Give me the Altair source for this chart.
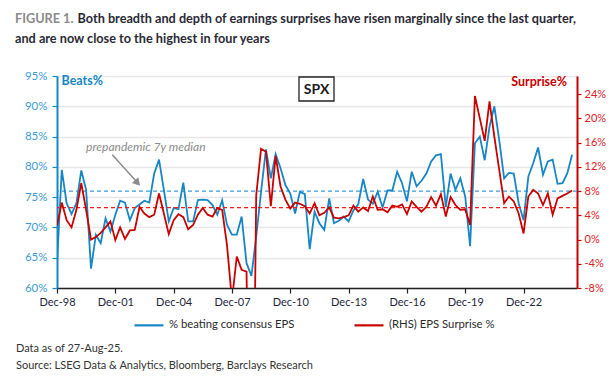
import altair as alt
import pandas as pd

# ---------------- data ----------------
quarter_ends = ["1998-12-31"]
for yr in range(1999, 2026):
    quarter_ends += [f"{yr}-03-31", f"{yr}-06-30", f"{yr}-09-30", f"{yr}-12-31"]
dates = [d + "T00:00:00" for d in quarter_ends[:107]]

beats_pct = [
    64.0, 79.5, 74.0, 72.2, 74.0, 79.4, 76.2, 63.2, 68.8, 67.4,
    71.5, 69.3, 72.1, 74.4, 74.1, 71.2, 73.2, 73.8, 74.4, 74.1,
    78.9, 81.2, 76.2, 71.0, 73.2, 73.0, 77.4, 71.0, 71.0, 74.5,
    74.6, 74.5, 73.7, 72.1, 74.5, 70.4, 68.8, 68.8, 71.8, 64.1,
    62.0, 68.5, 75.9, 82.9, 78.1, 82.1, 79.8, 77.0, 75.6, 72.3,
    75.9, 75.5, 66.4, 72.6, 70.7, 69.6, 74.8, 70.7, 71.1, 71.8,
    71.0, 72.8, 73.8, 78.0, 74.6, 73.9, 75.9, 73.3, 76.1, 76.1,
    79.2, 77.3, 74.3, 79.2, 76.8, 77.7, 78.9, 80.9, 81.9, 82.1,
    73.4, 78.9, 76.2, 78.1, 75.1, 66.9, 83.9, 85.0, 81.1, 86.6,
    90.0, 84.4, 78.1, 79.0, 78.9, 74.0, 71.2, 78.4, 80.6, 83.2,
    78.7, 80.9, 81.2, 77.2, 77.3, 78.9, 82.0,
]

surprise_pct = [
    2.3, 6.1, 3.2, 2.0, 4.9, 9.3, 4.9, 0.0, 0.4, 1.1,
    2.0, 3.0, -0.1, 2.0, 0.1, 1.5, 1.6, 5.4, 4.3, 3.7,
    4.1, 7.6, 4.3, 0.9, 3.2, 4.2, 3.7, 1.7, 2.4, 4.1,
    5.2, 4.1, 3.8, 5.2, 4.9, -1.0, -10.0, -2.8, -5.0, -5.3,
    -60.0, 7.3, 15.0, 14.5, 5.5, 13.8, 8.8, 6.6, 5.1, 6.1,
    5.9, 5.5, 4.3, 6.0, 4.0, 4.4, 5.3, 3.6, 3.5, 3.7,
    4.0, 5.6, 4.6, 5.3, 4.7, 7.1, 4.9, 5.0, 4.5, 5.6,
    5.4, 5.8, 4.2, 6.3, 5.4, 4.6, 5.4, 7.0, 5.6, 7.5,
    3.8, 7.0, 5.7, 4.9, 5.0, 2.4, 23.7, 20.0, 16.3, 22.8,
    17.0, 11.5, 6.0, 7.1, 6.3, 4.3, 1.0, 7.1, 8.2, 7.6,
    5.7, 7.6, 4.1, 6.8, 7.2, 7.6, 8.1,
]

beats_median = [76.0]
surprise_median = [5.27]

left_ticks = [60, 65, 70, 75, 80, 85, 90, 95]
right_ticks = [-8, -4, 0, 4, 8, 12, 16, 20, 24]
x_tick_years = [1998, 2001, 2004, 2007, 2010, 2013, 2016, 2019, 2022]

series_names = ["% beating consensus EPS", "(RHS) EPS Surprise %"]

title_tag = "FIGURE 1."
title_line1 = "Both breadth and depth of earnings surprises have risen marginally since the last quarter,"
title_line2 = "and are now close to the highest in four years"
footer_lines = ["Data as of 27-Aug-25.",
                "Source: LSEG Data & Analytics, Bloomberg, Barclays Research"]

note_text = ["prepandemic 7y median"]
note_pos_date = ["2000-06-30T00:00:00"]
note_pos_val = [83.3]
arrow_from = ["2001-11-03T00:00:00"]
arrow_to = ["2003-02-01T00:00:00"]
arrow_from_val = [82.0]
arrow_to_val = [77.6]
arrowhead_date = ["2003-02-22T00:00:00"]
arrowhead_val = [77.35]

# ---------------- style ----------------
FONT = "Lato"
BLUE = "#1786c5"
BLUE_LBL = "#3d9bd6"
BLUE_DASH = "#3d9bd6"
RED = "#c80000"
RED_LBL = "#e0201e"
RED_DASH = "#ff1a1a"
DARK = "#2a2a35"
GREY = "#8c8c8c"

df = pd.DataFrame({"date": dates, "beats": beats_pct, "surprise": surprise_pct})

x_scale = alt.Scale(domain=[alt.DateTime(year=1998, month=12, date=31),
                            alt.DateTime(year=2025, month=9, date=30)])
x_axis = alt.Axis(
    title=None,
    values=[alt.DateTime(year=y, month=12, date=31) for y in x_tick_years],
    format="%b-%y", grid=False, labelFlush=False, labelOverlap=False,
    domainColor="#222222", domainWidth=1.5, tickColor="#222222", tickSize=5,
    tickWidth=1.2, labelColor="#1f2740", labelFont=FONT, labelFontSize=11,
    labelPadding=3,
)

left_scale = alt.Scale(domain=[60, 95], nice=False, zero=False)
right_scale = alt.Scale(domain=[-8, 27], nice=False, zero=False)

left_axis = alt.Axis(
    title=None, orient="left", values=left_ticks, labelExpr="datum.value + '%'",
    domainColor=BLUE, domainWidth=2, tickColor=BLUE, tickSize=5, tickWidth=1.2,
    labelColor=BLUE_LBL, labelFont=FONT, labelFontSize=11.5, labelPadding=5,
    grid=True, gridColor="#e8e8e8", gridWidth=1.5, labelFlush=False,
)
right_axis = alt.Axis(
    title=None, orient="right", values=right_ticks, labelExpr="datum.value + '%'",
    domainColor=RED, domainWidth=2, tickColor=RED, tickSize=4, tickWidth=1.2,
    labelColor=RED_LBL, labelFont=FONT, labelFontSize=11, labelPadding=3,
    grid=False, labelFlush=False,
)

color_scale = alt.Scale(domain=series_names, range=[BLUE, RED])
legend = alt.Legend(
    title=None, orient="none", legendX=76, legendY=233, direction="horizontal",
    symbolType="stroke", symbolStrokeWidth=2.2, symbolSize=841,
    labelFont=FONT, labelFontSize=11.3, labelColor="#2a2a2a",
    columnPadding=55, labelOffset=4, padding=0, labelLimit=300,
)


def X(field="date"):
    return alt.X(f"{field}:T", scale=x_scale, axis=x_axis)


def YL(field="beats"):
    return alt.Y(f"{field}:Q", scale=left_scale, axis=left_axis)


def YR(field="surprise"):
    return alt.Y(f"{field}:Q", scale=right_scale, axis=right_axis)


def COLOR():
    return alt.Color("series:N", scale=color_scale, legend=legend)


one = pd.DataFrame({"k": [0]})

blue_line = alt.Chart(df).transform_calculate(
    series=f"'{series_names[0]}'"
).mark_line(strokeWidth=1.8, clip=True).encode(x=X(), y=YL(), color=COLOR())

blue_med = alt.Chart(pd.DataFrame({"beats": beats_median})).mark_rule(
    color=BLUE_DASH, strokeDash=[4, 3], strokeWidth=1.3
).encode(y=YL())

note = alt.Chart(pd.DataFrame({"date": note_pos_date, "beats": note_pos_val, "label": note_text})).mark_text(
    align="left", baseline="middle", font=FONT, fontSize=12, fontStyle="italic", color=GREY
).encode(x=X(), y=YL(), text="label:N")

arrow = alt.Chart(pd.DataFrame({"date": arrow_from, "date2": arrow_to,
                                "beats": arrow_from_val, "beats2": arrow_to_val})).mark_rule(
    color=GREY, strokeWidth=1.5
).encode(x=X(), x2="date2:T", y=YL(), y2="beats2:Q")

arrowhead = alt.Chart(pd.DataFrame({"date": arrowhead_date, "beats": arrowhead_val})).mark_point(
    shape="triangle-up", filled=True, size=75, angle=138, color=GREY, opacity=1
).encode(x=X(), y=YL())

beats_lbl = alt.Chart(pd.DataFrame({"t": ["Beats%"]})).mark_text(
    align="left", baseline="middle", font=FONT, fontWeight="bold", fontSize=12.5, color=BLUE
).encode(x=alt.value(4.5), y=alt.value(5), text="t:N")

spx_box = alt.Chart(one).mark_rect(fill="white", stroke="#222222", strokeWidth=1.3).encode(
    x=alt.value(242), x2=alt.value(277), y=alt.value(1), y2=alt.value(25)
)
spx_txt = alt.Chart(pd.DataFrame({"t": ["SPX"]})).mark_text(
    align="center", baseline="middle", font=FONT, fontWeight="bold", fontSize=14, color="#1a1a1a"
).encode(x=alt.value(259.5), y=alt.value(13.5), text="t:N")

title_tag_mark = alt.Chart(pd.DataFrame({"t": [title_tag]})).mark_text(
    align="left", baseline="middle", font=FONT, fontWeight="bold", fontSize=12.7, color="#8a8a8a"
).encode(x=alt.value(-42), y=alt.value(-57), text="t:N")
title_l1 = alt.Chart(pd.DataFrame({"t": [title_line1]})).mark_text(
    align="left", baseline="middle", font=FONT, fontWeight="bold", fontSize=12.7, color=DARK
).encode(x=alt.value(20.5), y=alt.value(-57), text="t:N")
title_l2 = alt.Chart(pd.DataFrame({"t": [title_line2]})).mark_text(
    align="left", baseline="middle", font=FONT, fontWeight="bold", fontSize=12.7, color=DARK
).encode(x=alt.value(-42), y=alt.value(-37), text="t:N")

foot1 = alt.Chart(pd.DataFrame({"t": [footer_lines[0]]})).mark_text(
    align="left", baseline="middle", font=FONT, fontSize=11, color="#333333"
).encode(x=alt.value(-41), y=alt.value(273), text="t:N")
foot2 = alt.Chart(pd.DataFrame({"t": [footer_lines[1]]})).mark_text(
    align="left", baseline="middle", font=FONT, fontSize=11, color="#333333"
).encode(x=alt.value(-41), y=alt.value(290), text="t:N")

red_line = alt.Chart(df).transform_calculate(
    series=f"'{series_names[1]}'"
).mark_line(strokeWidth=1.8, clip=True).encode(x=X(), y=YR(), color=COLOR())

red_med = alt.Chart(pd.DataFrame({"surprise": surprise_median})).mark_rule(
    color=RED_DASH, strokeDash=[4, 3], strokeWidth=1.3
).encode(y=YR())
surprise_lbl = alt.Chart(pd.DataFrame({"t": ["Surprise%"]})).mark_text(
    align="right", baseline="middle", font=FONT, fontWeight="bold", fontSize=12.5, color=RED
).encode(x=alt.value(510), y=alt.value(5.5), text="t:N")

left = alt.layer(blue_med, blue_line, note, arrow, arrowhead, beats_lbl, spx_box, spx_txt,
                 title_tag_mark, title_l1, title_l2, foot1, foot2)
right = alt.layer(red_med, red_line, surprise_lbl)

chart = alt.layer(left, right).resolve_scale(y="independent").properties(
    width=520, height=212,
    autosize=alt.AutoSizeParams(type="none"),
    padding={"left": 49, "top": 68, "right": 29, "bottom": 88},
).configure_view(stroke=None).configure(background="white")

chart.save("out.html", embed_options={"renderer": "svg", "actions": False})
